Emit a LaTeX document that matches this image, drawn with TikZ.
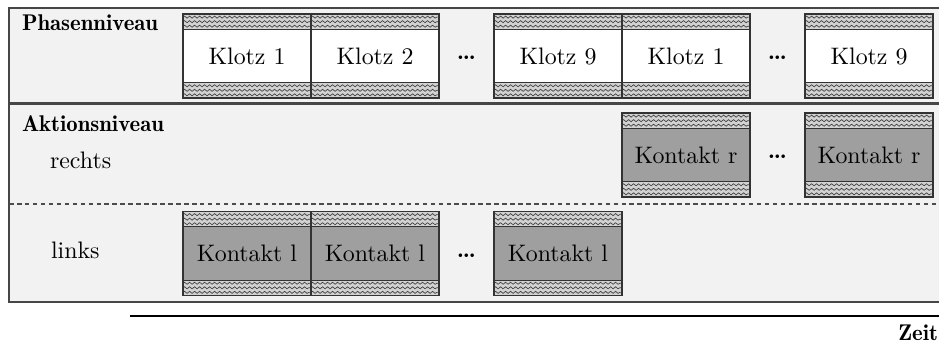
\documentclass[tikz,border=0pt]{standalone}
\usetikzlibrary{decorations.pathmorphing}

% Wellenbaender oben und unten in jedem Klotz
\newcommand{\baender}{%
  \fill[gray!35] (path picture bounding box.north west) rectangle ([yshift=-6.8pt]path picture bounding box.north east);
  \fill[gray!35] (path picture bounding box.south west) rectangle ([yshift=6.8pt]path picture bounding box.south east);
  \foreach \dy in {1.4,3.4,5.4} {
    \draw[wellen] ([yshift=-\dy pt]path picture bounding box.north west) -- ([yshift=-\dy pt]path picture bounding box.north east);
    \draw[wellen] ([yshift=\dy pt]path picture bounding box.south west) -- ([yshift=\dy pt]path picture bounding box.south east);
  }
  \draw[gray!40!black, line width=0.5pt] ([yshift=-6.8pt]path picture bounding box.north west) -- ([yshift=-6.8pt]path picture bounding box.north east);
  \draw[gray!40!black, line width=0.5pt] ([yshift=6.8pt]path picture bounding box.south west) -- ([yshift=6.8pt]path picture bounding box.south east);
}

\tikzset{
  wellen/.style={decorate, decoration={snake, amplitude=0.45pt, segment length=2.2pt}, gray!50!black, line width=0.3pt},
  klotz/.style={draw=gray!40!black, line width=0.5pt, fill=white, minimum width=56.3pt, minimum height=37pt, inner sep=0pt, font=\fontsize{10.5}{12}\selectfont, path picture={\baender}},
  kontakt/.style={klotz, fill=gray!75},
  ebene/.style={anchor=west, font=\fontseries{b}\selectfont},
  seite/.style={anchor=west, font=\fontsize{10.5}{12}\selectfont},
  punkte/.style={font=\bfseries},
}

\begin{document}
\begin{tikzpicture}[x=0.44pt, y=-0.44pt]

\clip (0,0) rectangle (939,345);

% Rahmen mit den beiden Ebenen
\fill[gray!10] (9,8) rectangle (950,302);
\draw[gray!55!black, line width=0.8pt] (950,8) -- (9,8) -- (9,302) -- (950,302);
\draw[gray!55!black, line width=1pt] (9,103.5) -- (950,103.5);
\draw[gray!60!black, dash pattern=on 2pt off 1.5pt, line width=0.5pt] (9,204) -- (950,204);

% Beschriftungen
\node[ebene] (phase)  at (14,23)  {Phasenniveau};
\node[ebene] (aktion) at (14,124) {Aktionsniveau};
\node[seite] (rechts) at (42,160) {rechts};
\node[seite] (links)  at (43,250) {links};

% Phasenniveau
\node[klotz] (k1)  at (247,56) {Klotz 1};
\node[klotz] (k2)  at (375,56) {Klotz 2};
\node[punkte] (p1) at (466.5,58) {\dots};
\node[klotz] (k9)  at (558,56) {Klotz 9};
\node[klotz] (k1b) at (686,56) {Klotz 1};
\node[punkte] (p2) at (777.5,58) {\dots};
\node[klotz] (k9b) at (869,56) {Klotz 9};

% Aktionsniveau rechts
\node[kontakt] (kr1) at (686,155) {Kontakt r};
\node[punkte]  (p3)  at (777.5,157) {\dots};
\node[kontakt] (kr2) at (869,155) {Kontakt r};

% Aktionsniveau links
\node[kontakt] (kl1) at (247,253.5) {Kontakt l};
\node[kontakt] (kl2) at (375,253.5) {Kontakt l};
\node[punkte]  (p4)  at (466.5,255.5) {\dots};
\node[kontakt] (kl9) at (558,253.5) {Kontakt l};

% Zeitachse
\coordinate (t0) at (130,316);
\coordinate (t1) at (945,316);
\draw[line width=1.1pt] (t0) -- (t1);
\node[font=\fontseries{b}\selectfont, anchor=east] (zeit) at (946,333) {Zeit};

\end{tikzpicture}
\end{document}
